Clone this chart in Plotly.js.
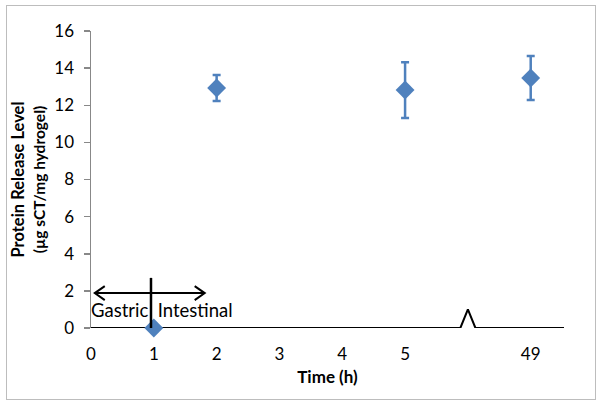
<!DOCTYPE html>
<html>
<head>
<meta charset="utf-8">
<script src="https://cdn.plot.ly/plotly-3.0.1.min.js"></script>
<style>
  html, body { margin: 0; padding: 0; background: #fff; }
  #wrap { position: relative; width: 602px; height: 406px; }
  #chart { width: 602px; height: 406px; }
  #frame { position: absolute; left: 6px; top: 5px; width: 588px; height: 393px;
           border: 1.5px solid #bdbdbd; pointer-events: none; }
</style>
</head>
<body>
<div id="wrap"><div id="chart"></div><div id="frame"></div></div>
<script>
// Category positions on the x axis and their labels
const tickPositions = [0, 1, 2, 3, 4, 5, 6, 7];
const tickLabels = ['0', '1', '2', '3', '4', '5', '', '49'];

// Measured data (x = axis position, 49 h sits at position 7)
const timePos = [1, 2, 5, 7];
const releaseLevel = [0, 12.93, 12.82, 13.47];
const errPlus = [0, 0.70, 1.50, 1.18];
const errMinus = [0, 0.70, 1.51, 1.19];

// Baseline with axis-break marker
const baseX = [0, 5.88, 6.0, 6.12, 7.53];
const baseY = [0, 0, 1.0, 0, 0];

// Gastric / intestinal phase marker
const phaseSplitX = 0.955;
const arrowY = 1.88;
const arrowLeft = 0.06;
const arrowRight = 1.81;

const font = 'Lato, "Open Sans", sans-serif';

const traces = [
  {
    x: baseX, y: baseY, mode: 'lines', type: 'scatter',
    line: { color: '#000', width: 2 }, hoverinfo: 'skip', showlegend: false
  },
  {
    x: timePos, y: releaseLevel, type: 'scatter', mode: 'markers',
    marker: { symbol: 'diamond', size: 14.5, color: '#4F81BD' },
    error_y: { type: 'data', symmetric: false, array: errPlus, arrayminus: errMinus,
               color: '#4F81BD', thickness: 2.5, width: 4 },
    cliponaxis: false, showlegend: false
  }
];

const hx = 10 / 62.8, hy = 7 / 18.56;
const layout = {
  width: 602, height: 406,
  margin: { l: 91, r: 38, t: 31, b: 78 },
  paper_bgcolor: '#fff', plot_bgcolor: '#fff',
  font: { family: font, size: 17, color: '#000' },
  showlegend: false,
  xaxis: {
    range: [0, 7.53], showgrid: false, zeroline: false, showline: false,
    tickmode: 'array', tickvals: tickPositions, ticktext: tickLabels,
    ticks: '', tickfont: { size: 17 }, ticklabelstandoff: 14,
    title: { text: '<b>Time (h)</b>', font: { size: 17 }, standoff: 8 }
  },
  yaxis: {
    range: [0, 16], dtick: 2, showgrid: false, zeroline: false,
    showline: true, linecolor: '#888', linewidth: 1.5,
    ticks: 'outside', ticklen: 6, tickcolor: '#888', tickwidth: 1.5,
    tickfont: { size: 17 }, ticklabelstandoff: 6,
    title: { text: '<b>Protein Release Level</b><br><b><span style="font-size:15.5px">(µg sCT/mg hydrogel)</span></b>',
             font: { size: 16.5 }, standoff: 4 }
  },
  shapes: [
    { type: 'line', xref: 'x', yref: 'y', x0: phaseSplitX, x1: phaseSplitX, y0: -0.5, y1: 2.7,
      line: { color: '#000', width: 2.5 }, layer: 'above' },
    { type: 'line', xref: 'x', yref: 'y', x0: arrowLeft, x1: arrowRight, y0: arrowY, y1: arrowY,
      line: { color: '#000', width: 2 }, layer: 'above' },
    { type: 'path', xref: 'x', yref: 'y', layer: 'above', line: { color: '#000', width: 2 },
      path: `M ${arrowLeft + hx} ${arrowY + hy} L ${arrowLeft} ${arrowY} L ${arrowLeft + hx} ${arrowY - hy}` },
    { type: 'path', xref: 'x', yref: 'y', layer: 'above', line: { color: '#000', width: 2 },
      path: `M ${arrowRight - hx} ${arrowY + hy} L ${arrowRight} ${arrowY} L ${arrowRight - hx} ${arrowY - hy}` }
  ],
  annotations: [
    { x: 0, y: 0.97, xref: 'x', yref: 'y', xanchor: 'left', yanchor: 'middle', xshift: -2,
      text: 'Gastric  Intestinal', showarrow: false, font: { size: 18.5, color: '#000' } }
  ]
};

Plotly.newPlot('chart', traces, layout, { displayModeBar: false, staticPlot: true });
</script>
</body>
</html>
